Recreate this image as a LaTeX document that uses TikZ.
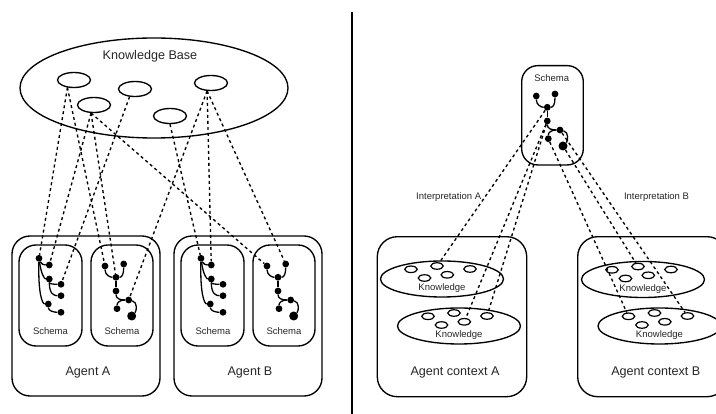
\documentclass[tikz,border=0pt]{standalone}
\usepackage{fontspec}
\setmainfont{Liberation Sans}
\usetikzlibrary{shapes.geometric}
\tikzset{
 bigtxt/.style={font=\fontsize{12.6}{14}\selectfont, text=black!85, inner sep=0pt},
 smalltxt/.style={font=\fontsize{9.5}{11}\selectfont, text=black!85, inner sep=0pt},
 outline/.style={draw, line width=1.35pt},
 roundbox/.style={outline, rectangle, rounded corners=#1, inner sep=0pt},
 ell/.style={outline, ellipse, inner sep=0pt},
 kbell/.style={ell, minimum width=33pt, minimum height=15pt},
 sell/.style={draw, line width=1.2pt, ellipse, inner sep=0pt, minimum width=12.5pt, minimum height=6.5pt},
 tdot/.style={circle, fill=black, inner sep=0pt, minimum size=6.8pt},
 bigdot/.style={circle, fill=black, inner sep=0pt, minimum size=9pt},
 tedge/.style={line width=1.3pt},
 dline/.style={line width=1.35pt, dash pattern=on 3pt off 3pt},
 treeA/.pic={
  \node[tdot] (-r) at (0,0) {};
  \node[tdot] (-a) at (10.3,6.7) {};
  \node[tdot] (-b) at (10.3,20.7) {};
  \node[tdot] (-c) at (22,26) {};
  \node[tdot] (-d) at (22,37.4) {};
  \node[tdot] (-e) at (9.3,45.7) {};
  \node[tdot] (-f) at (22,54) {};
  \draw[tedge] (-r) .. controls +(2,6) and +(-5,0) .. (-a);
  \draw[tedge] (-r) .. controls +(2,15) and +(-5,0) .. (-b);
  \draw[tedge] (-r) .. controls +(-1,35) and +(-6,0) .. (-e);
  \draw[tedge] (-b) .. controls +(0,5) and +(-7,0) .. (-c);
  \draw[tedge] (-b) .. controls +(0,15) and +(-7,0) .. (-d);
  \draw[tedge] (-e) .. controls +(0,7) and +(-7,0) .. (-f);
 },
 treeB/.pic={
  \node[tdot] (-l) at (-11,-11.3) {};
  \node[tdot] (-r) at (7.7,-13.3) {};
  \node[tdot] (-j) at (0,0) {};
  \node[tdot] (-n) at (0,13.7) {};
  \node[tdot] (-m) at (12.7,22.7) {};
  \node[tdot] (-p) at (1,31.4) {};
  \node[bigdot] (-q) at (15.7,38.7) {};
  \draw[tedge] (-l) .. controls +(0,9) and +(-6,0) .. (-j);
  \draw[tedge] (-r) .. controls +(0,10) and +(6,0) .. (-j);
  \draw[tedge] (-j) -- (-n);
  \draw[tedge] (-n) .. controls +(0,8) and +(-8,0) .. (-m);
  \draw[tedge] (-m) .. controls +(-9,0) and +(0,-6) .. (-p);
  \draw[tedge] (-m) .. controls +(9,2) and +(5,-5) .. (-q);
 },
 know/.pic={
  \node[ell, minimum width=123pt, minimum height=36pt] (-e) at (0,0) {};
  \node[smalltxt] (-lbl) at (0,9.5) {Knowledge};
  \node[sell] (-s1) at (-31,-9.7) {};
  \node[sell] (-s2) at (-5,-13) {};
  \node[sell] (-s3) at (28,-10) {};
  \node[sell] (-s4) at (-17.5,-1) {};
  \node[sell] (-s5) at (5.3,-4.2) {};
 },
}
\begin{document}
\begin{tikzpicture}[x=1pt,y=-1pt]
\useasboundingbox (0,0) rectangle (716,414);
\clip (0,0) rectangle (716,414);
% divider
\coordinate (divtop) at (352,12);
\coordinate (divbot) at (352,414);
\draw[line width=1.1pt] (divtop) -- (divbot);

% ---------- left: knowledge base ----------
\node[ell, minimum width=268pt, minimum height=100pt] (kb) at (154,88) {};
\node[bigtxt] (kbl) at (150,56.7) {Knowledge Base};
\node[kbell] (e1) at (74,80) {};
\node[kbell] (e2) at (135,89) {};
\node[kbell] (e3) at (211,83) {};
\node[kbell] (e4) at (94,105) {};
\node[kbell] (e5) at (170,116) {};

% agents
\node[roundbox=18pt, minimum width=148pt, minimum height=160pt] (agA) at (86,316) {};
\node[roundbox=18pt, minimum width=148pt, minimum height=160pt] (agB) at (248,316) {};
\node[bigtxt] (agAl) at (88,372) {Agent A};
\node[bigtxt] (agBl) at (250,372) {Agent B};

\node[roundbox=17pt, minimum width=63pt, minimum height=101pt] (sb1) at (50.5,295.5) {};
\node[roundbox=17pt, minimum width=62pt, minimum height=101pt] (sb2) at (122,295.5) {};
\node[roundbox=17pt, minimum width=63pt, minimum height=101pt] (sb3) at (212.5,295.5) {};
\node[roundbox=17pt, minimum width=62pt, minimum height=101pt] (sb4) at (284,295.5) {};
\node[smalltxt] (sb1l) at (50.5,331) {Schema};
\node[smalltxt] (sb2l) at (122,331) {Schema};
\node[smalltxt] (sb3l) at (213,331) {Schema};
\node[smalltxt] (sb4l) at (284,331) {Schema};

\pic (t1) at (39,258.3) {treeA};
\pic (t2) at (116,277.3) {treeB};
\pic (t3) at (201,258.3) {treeA};
\pic (t4) at (278,277.3) {treeB};

% ---------- right ----------
\node[roundbox=16pt, minimum width=61.6pt, minimum height=99.3pt] (rs) at (552.5,115.3) {};
\node[smalltxt] (rsl) at (551.7,78) {Schema};
\pic (t5) at (547.3,107.3) {treeB};

\node[roundbox=20pt, minimum width=149.4pt, minimum height=160pt] (cA) at (452,316.7) {};
\node[roundbox=20pt, minimum width=149.4pt, minimum height=160pt] (cB) at (652.4,316.7) {};
\node[bigtxt] (cAl) at (455,372.7) {Agent context A};
\node[bigtxt] (cBl) at (655.8,372.7) {Agent context B};

\pic (kA1) at (442,279) {know};
\pic (kA2) at (459,326) {know};
\pic (kB1) at (643,279.5) {know};
\pic (kB2) at (659.5,326) {know};

\node[smalltxt] (iA) at (448.7,196.7) {Interpretation A};
\node[smalltxt] (iB) at (656.5,196.7) {Interpretation B};

% ---------- dashed connectors ----------
\draw[dline] (e1.229) -- (t1-r);
\draw[dline] (e1.229) -- (t2-l);
\draw[dline] (e4.250) -- (t1-a);
\draw[dline] (e4.250) -- (t2-j);
\draw[dline] (e4.250) -- (t4-l);
\draw[dline] (e2.235) -- (t1-c);
\draw[dline] (e3.244) -- (t2-m);
\draw[dline] (e3.244) -- (t3-a);
\draw[dline] (e3.244) -- (t4-r);
\draw[dline] (e5.270) -- (t3-r);

\draw[dline] (t5-j) -- (kA1-s2);
\draw[dline] (t5-n) -- (kA2-s5);
\draw[dline] (t5-n) -- (kA2-s3);
\draw[dline] (t5-p) -- (kB2-s1);
\draw[dline] (t5-q) -- (kB1-s2);
\draw[dline] (t5-m) -- (kB2-s3);
\end{tikzpicture}
\end{document}
